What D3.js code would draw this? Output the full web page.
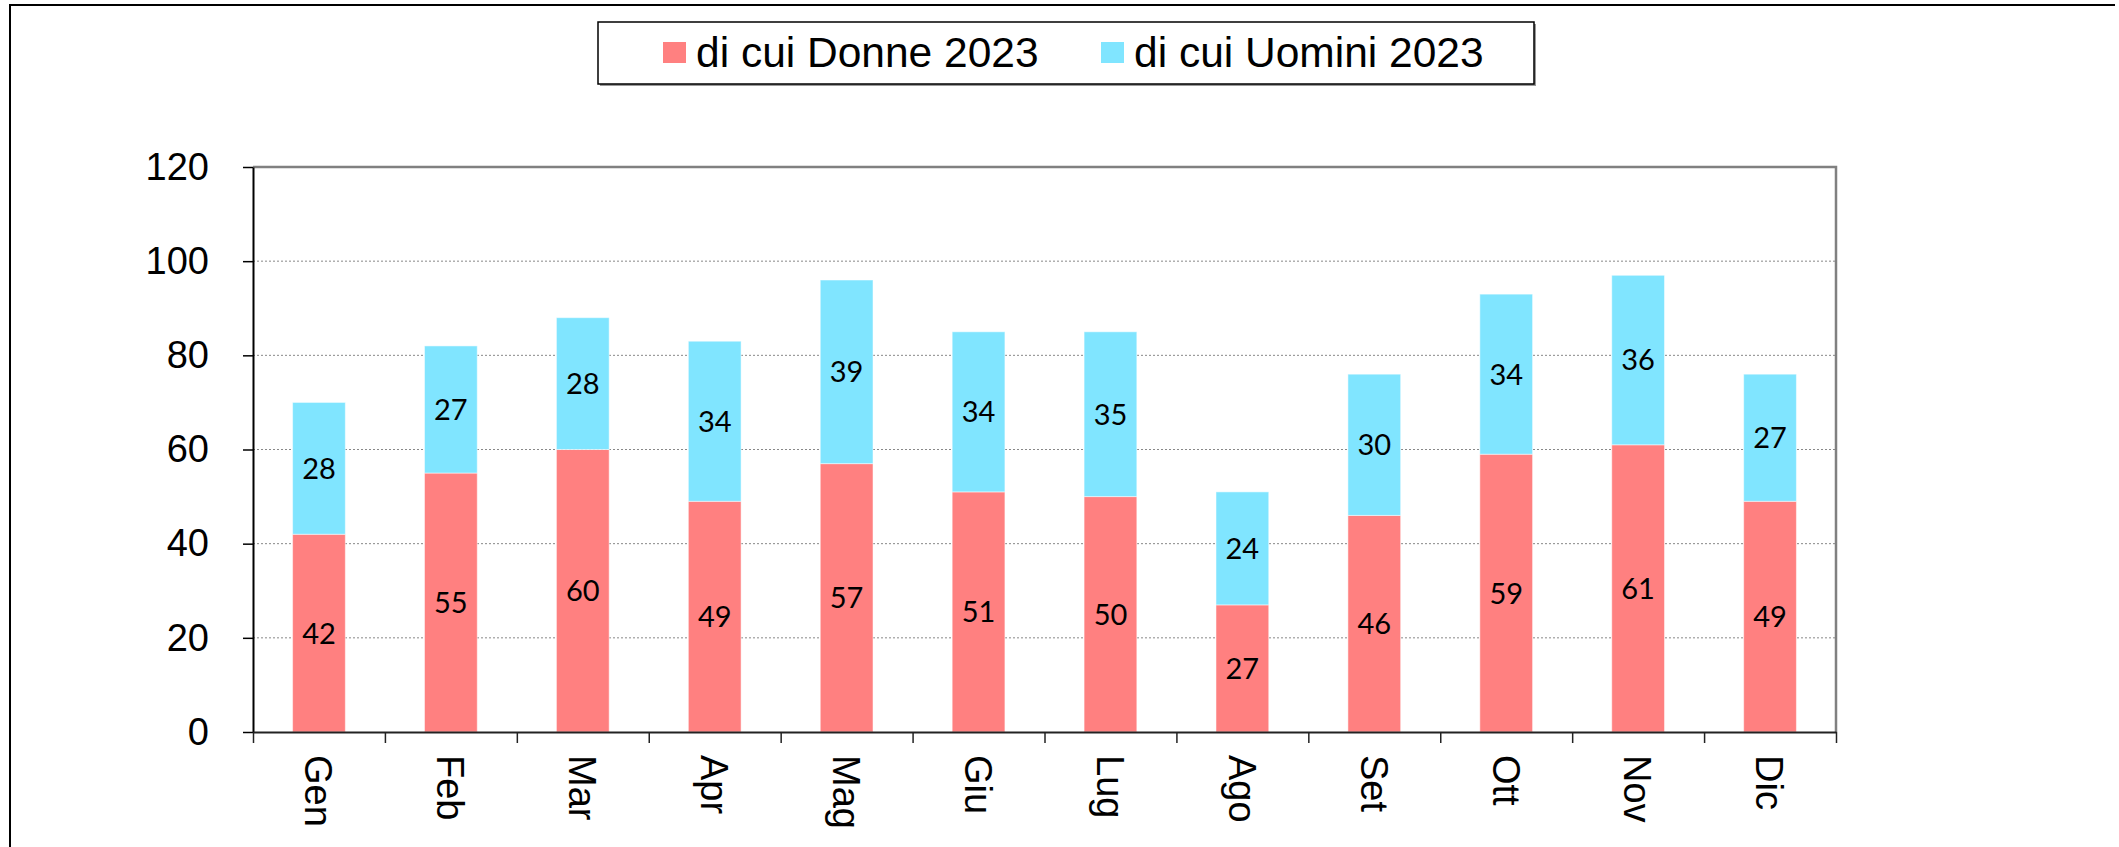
<!DOCTYPE html>
<html>
<head>
<meta charset="utf-8">
<script src="https://cdn.jsdelivr.net/npm/d3@7"></script>
<style>
  body { margin: 0; background: #fff; }
  svg { display: block; }
  .tick text { font-family: "Liberation Sans", Arial, sans-serif; }
</style>
</head>
<body>
<div id="chart"></div>
<script>
var months = ['Gen', 'Feb', 'Mar', 'Apr', 'Mag', 'Giu', 'Lug', 'Ago', 'Set', 'Ott', 'Nov', 'Dic'];
var donne = [42, 55, 60, 49, 57, 51, 50, 27, 46, 59, 61, 49];
var uomini = [28, 27, 28, 34, 39, 34, 35, 24, 30, 34, 36, 27];
var yTicks = [0, 20, 40, 60, 80, 100, 120];
var seriesNames = ['di cui Donne 2023', 'di cui Uomini 2023'];
var seriesColors = ['#ff8080', '#80e5ff'];

var width = 2119, height = 847;
var plot = {left: 253, right: 1836, top: 167, bottom: 732};

var svg = d3.select('#chart').append('svg')
            .attr('width', width)
            .attr('height', height);

// outer frame (only top and left edges show in the picture)
svg.append('path')
   .attr('d', 'M10,847V5H2115')
   .attr('fill', 'none')
   .attr('stroke', '#000')
   .attr('stroke-width', 2);

var x = d3.scaleBand()
          .domain(months)
          .range([plot.left, plot.right])
          .paddingInner(0.6)
          .paddingOuter(0.3);

var y = d3.scaleLinear()
          .domain([0, 120])
          .range([plot.bottom, plot.top]);

// gridlines
svg.append('g')
   .selectAll('line')
   .data(yTicks.filter(function(d) { return d > 0 && d < 120; }))
   .enter().append('line')
   .attr('x1', plot.left).attr('x2', plot.right)
   .attr('y1', function(d) { return y(d); })
   .attr('y2', function(d) { return y(d); })
   .attr('stroke', '#888')
   .attr('stroke-width', 1)
   .attr('stroke-dasharray', '2,2');

// top + right border of plot area
svg.append('path')
   .attr('d', 'M' + plot.left + ',' + y(120) + 'H' + plot.right + 'V' + plot.bottom)
   .attr('fill', 'none')
   .attr('stroke', '#808080')
   .attr('stroke-width', 2.5);

// stacked bars
var rows = months.map(function(m, i) { return {month: m, donne: donne[i], uomini: uomini[i]}; });
var stack = d3.stack().keys(['donne', 'uomini'])(rows);

var layers = svg.append('g')
                .selectAll('g')
                .data(stack)
                .enter().append('g')
                .attr('fill', function(d, i) { return seriesColors[i]; });

layers.selectAll('rect')
      .data(function(d) { return d; })
      .enter().append('rect')
      .attr('x', function(d) { return x(d.data.month); })
      .attr('width', x.bandwidth())
      .attr('y', function(d) { return y(d[1]); })
      .attr('height', function(d) { return y(d[0]) - y(d[1]); })
      .attr('stroke', 'rgba(255,255,255,0.5)')
      .attr('stroke-width', 1);

layers.selectAll('text')
      .data(function(d) { return d; })
      .enter().append('text')
      .attr('x', function(d) { return x(d.data.month) + x.bandwidth() / 2; })
      .attr('y', function(d) { return y((d[0] + d[1]) / 2); })
      .attr('dy', '0.36em')
      .attr('text-anchor', 'middle')
      .attr('fill', '#000')
      .style('font-family', 'Lato, "Open Sans", sans-serif')
      .style('font-size', '29px')
      .text(function(d) { return d[1] - d[0]; });

// y axis
var yAxis = svg.append('g')
               .attr('transform', 'translate(' + plot.left + ',0)')
               .call(d3.axisLeft(y)
                       .tickValues(yTicks)
                       .tickSize(10)
                       .tickSizeOuter(0)
                       .tickPadding(34));
yAxis.select('.domain').attr('stroke', '#000').attr('stroke-width', 2);
yAxis.selectAll('.tick line').attr('stroke', '#000').attr('stroke-width', 1.5);
yAxis.selectAll('.tick text').style('font-size', '38px').attr('fill', '#000');

// x axis: ticks sit on the category boundaries
var edge = d3.scaleLinear().domain([0, months.length]).range([plot.left, plot.right]);
var xAxis = svg.append('g')
               .attr('transform', 'translate(0,' + plot.bottom + ')')
               .call(d3.axisBottom(edge)
                       .tickValues(d3.range(months.length + 1))
                       .tickSize(11)
                       .tickSizeOuter(0)
                       .tickFormat(''));
xAxis.select('.domain').attr('stroke', '#222').attr('stroke-width', 2);
xAxis.selectAll('.tick line').attr('stroke', '#222').attr('stroke-width', 1.5);

svg.append('g')
   .selectAll('text')
   .data(months)
   .enter().append('text')
   .attr('transform', function(d) {
     return 'translate(' + (x(d) + x.bandwidth() / 2) + ',' + (plot.bottom + 23) + ') rotate(90)';
   })
   .attr('dy', '0.36em')
   .attr('text-anchor', 'start')
   .style('font-family', '"Liberation Sans", Arial, sans-serif')
   .style('font-size', '38px')
   .text(function(d) { return d; });

// legend
var legend = svg.append('g');
legend.append('rect')
      .attr('x', 600).attr('y', 24)
      .attr('width', 936).attr('height', 62)
      .attr('fill', '#999');
legend.append('rect')
      .attr('x', 598).attr('y', 22)
      .attr('width', 936).attr('height', 62)
      .attr('fill', '#fff')
      .attr('stroke', '#000')
      .attr('stroke-width', 1.5);

var legendX = [663, 1101];
var legendItems = legend.selectAll('g.item')
                        .data(seriesNames)
                        .enter().append('g')
                        .attr('class', 'item')
                        .attr('transform', function(d, i) { return 'translate(' + legendX[i] + ',0)'; });
legendItems.append('rect')
           .attr('x', 0).attr('y', 42)
           .attr('width', 23).attr('height', 21)
           .attr('fill', function(d, i) { return seriesColors[i]; });
legendItems.append('text')
           .attr('x', 33).attr('y', 67)
           .style('font-family', '"Liberation Sans", Arial, sans-serif')
           .style('font-size', '42.5px')
           .text(function(d) { return d; });
</script>
</body>
</html>
